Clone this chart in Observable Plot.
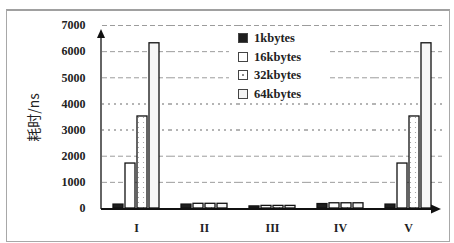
<!DOCTYPE html>
<html><head><meta charset="utf-8">
<script src="https://cdn.jsdelivr.net/npm/d3@7"></script>
<script src="https://cdn.jsdelivr.net/npm/@observablehq/plot@0.6"></script>
<style>
body{margin:0;background:#fff;}
#wrap{position:relative;width:454px;height:243px;overflow:hidden;background:#fff;}
#chart{position:absolute;left:0;top:0;}
#border{position:absolute;left:6px;top:9px;width:444px;height:233px;border:1px solid #a8a8a8;border-top:2px solid #a0a0a0;box-sizing:border-box;pointer-events:none;}
#legend{position:absolute;left:229px;top:29px;width:101px;height:72px;background:#fff;font-family:"Liberation Serif",serif;font-weight:bold;font-size:12.5px;color:#222;}
#legend .row{height:18.5px;line-height:18.5px;display:flex;align-items:center;padding-left:9px;}
#legend .sw{width:8px;height:8px;border:1px solid #444;margin-right:6px;box-sizing:content-box;}
</style></head>
<body>
<div id="wrap"><div id="chart"></div><div id="border"></div><div id="legend"></div></div>
<script>
const groups = ["I", "II", "III", "IV", "V"];
const series = ["1kbytes", "16kbytes", "32kbytes", "64kbytes"];
const v1k  = [150, 150, 80, 170, 150];
const v16k = [1720, 180, 100, 200, 1720];
const v32k = [3520, 180, 100, 200, 3520];
const v64k = [6320, 180, 100, 200, 6320];
const yTicks = [0, 1000, 2000, 3000, 4000, 5000, 6000, 7000];
const dashedGrid = [1000, 2000, 5000, 6000, 7000];
const dottedGrid = [3000, 4000];
const yLabel = "耗时/ns";

const valuesBySeries = [v1k, v16k, v32k, v64k];
const rows = [];
series.forEach((s, si) => groups.forEach((g, gi) => rows.push({group: g, series: s, value: valuesBySeries[si][gi]})));

const fills = ["#1e1e1e", "#ffffff", "url(#dots32)", "#f7f7f7"];

const chart = Plot.plot({
  width: 454, height: 243,
  marginLeft: 101, marginRight: 11, marginTop: 25, marginBottom: 35,
  style: {fontFamily: "'Liberation Serif', serif", fontSize: "12px", fontWeight: "bold", color: "#222", background: "transparent"},
  fx: {domain: groups, padding: 0, label: null, axis: "bottom", tickSize: 0, tickPadding: 15},
  x: {domain: series, axis: null, paddingInner: 0.17, paddingOuter: 0.88},
  y: {domain: [0, 7000], ticks: yTicks, tickSize: 0, tickPadding: 17, label: null, tickFormat: d => String(d)},
  color: {type: "ordinal", domain: series, range: fills},
  marks: [
    Plot.ruleY(dashedGrid, {stroke: "#9c9c9c", strokeDasharray: "5,3", strokeWidth: 1}),
    Plot.ruleY(dottedGrid, {stroke: "#9c9c9c", strokeDasharray: "2,4", strokeWidth: 1.6}),
    Plot.barY(rows, {fx: "group", x: "series", y: "value", fill: "series", stroke: "#111", strokeWidth: 1.3})
  ]
});
document.getElementById("chart").appendChild(chart);

const svg = d3.select(chart);
const defs = svg.insert("defs", ":first-child");
const pat = defs.append("pattern").attr("id", "dots32").attr("width", 5).attr("height", 5).attr("patternUnits", "userSpaceOnUse");
pat.append("rect").attr("width", 5).attr("height", 5).attr("fill", "#fff");
pat.append("circle").attr("cx", 2.5).attr("cy", 2.5).attr("r", 0.6).attr("fill", "#999");

const ys = chart.scale("y");
const y0 = ys.apply(0), yTop = ys.apply(7000);
const xl = 101, xr = 441;
const ax = svg.append("g").attr("fill", "#111").attr("stroke", "#111");
ax.append("line").attr("x1", xl).attr("x2", xl).attr("y1", y0 + 1).attr("y2", yTop + 8).attr("stroke-width", 1.3);
ax.append("path").attr("stroke", "none").attr("d", `M${xl},${yTop + 4}L${xl - 4},${yTop + 13}L${xl + 4},${yTop + 13}Z`);
ax.append("line").attr("x1", xl).attr("x2", xr - 6).attr("y1", y0 + 1).attr("y2", y0 + 1).attr("stroke-width", 2);
ax.append("path").attr("stroke", "none").attr("d", `M${xr},${y0 + 1}L${xr - 10},${y0 - 3.5}L${xr - 10},${y0 + 5.5}Z`);

svg.append("text").text(yLabel)
  .attr("transform", `translate(33,${(y0 + yTop) / 2 + 1}) rotate(-90)`)
  .attr("text-anchor", "middle").attr("dominant-baseline", "central")
  .attr("font-family", "'Noto Sans CJK SC', sans-serif").attr("font-size", 14).attr("font-weight", "normal").attr("fill", "#222");

const lg = d3.select("#legend");
series.forEach((s, i) => {
  const r = lg.append("div").attr("class", "row");
  const sw = r.append("div").attr("class", "sw");
  if (i === 0) sw.style("background", "#1e1e1e");
  else if (i === 2) sw.style("background", "radial-gradient(circle, #888 0.8px, #fff 1.2px)");
  else if (i === 3) sw.style("background", "#f3f3f3");
  else sw.style("background", "#fff");
  r.append("span").text(s);
});
</script>
</body></html>
